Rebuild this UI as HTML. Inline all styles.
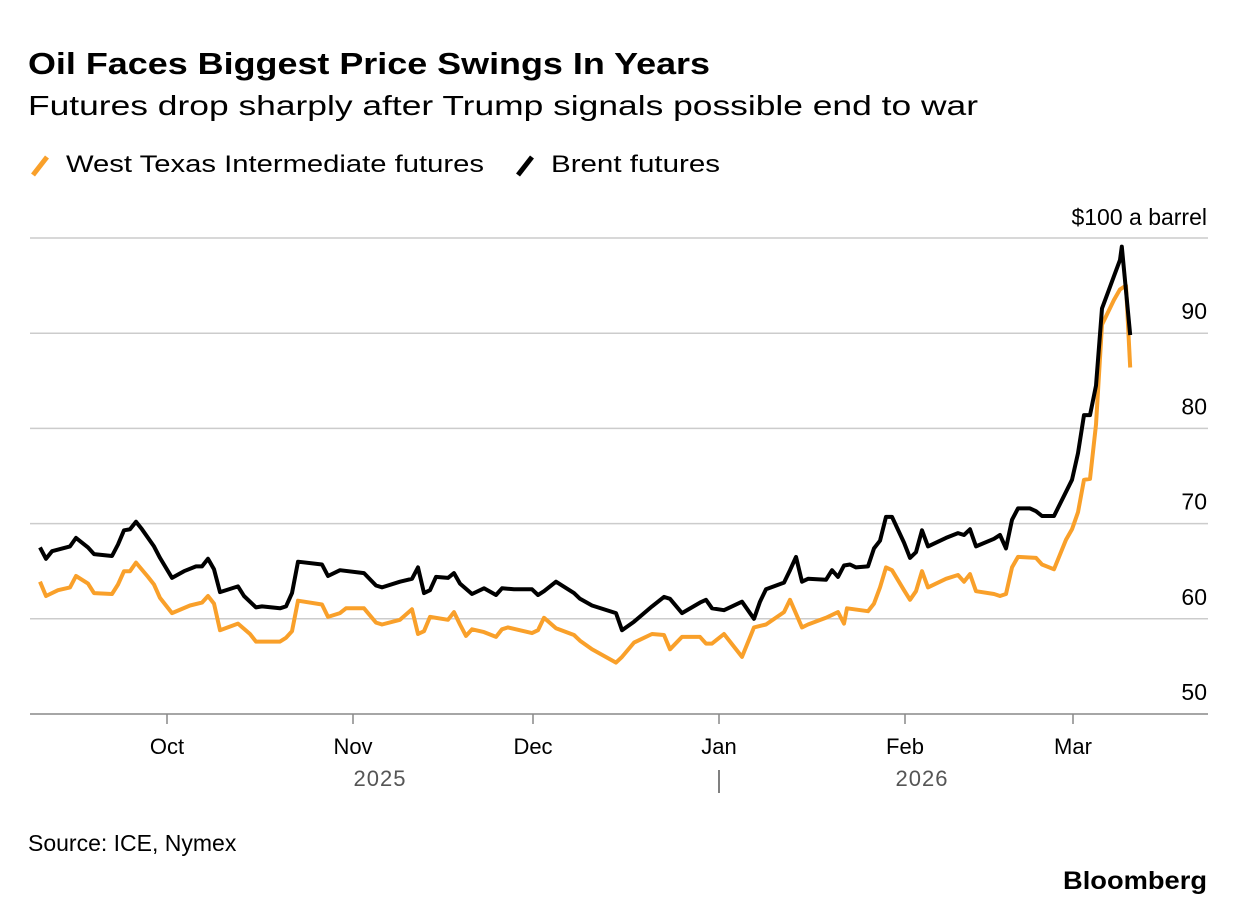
<!DOCTYPE html>
<html><head><meta charset="utf-8"><style>
html,body{margin:0;padding:0;background:#fff;}
svg{display:block;font-family:"Liberation Sans",Arial,sans-serif;}
</style></head><body>
<svg id="chart" width="1237" height="922" viewBox="0 0 1237 922">
<text x="28" y="74" font-size="31" font-weight="bold" fill="#000" textLength="682" lengthAdjust="spacingAndGlyphs">Oil Faces Biggest Price Swings In Years</text>
<text x="28" y="115" font-size="28" fill="#000" textLength="950" lengthAdjust="spacingAndGlyphs">Futures drop sharply after Trump signals possible end to war</text>
<g>
<g>
<line x1="33" y1="175" x2="47" y2="157" stroke="#f9a02a" stroke-width="5"/>
<text x="66" y="172" font-size="24" fill="#000" textLength="418" lengthAdjust="spacingAndGlyphs">West Texas Intermediate futures</text>
</g>
<g>
<line x1="518" y1="175" x2="532" y2="157" stroke="#000" stroke-width="5"/>
<text x="551" y="172" font-size="24" fill="#000" textLength="169" lengthAdjust="spacingAndGlyphs">Brent futures</text>
</g>
</g>
<g id="grid"></g>
<g id="xaxis"></g>
<g id="series"></g>
<text x="28" y="851" font-size="23" fill="#000">Source: ICE, Nymex</text>
<text x="1207" y="889" font-size="25" font-weight="bold" fill="#000" text-anchor="end" textLength="144" lengthAdjust="spacingAndGlyphs">Bloomberg</text>
</svg>
<script>
// Days offset from 2025-09-10
const wtiDays = [0,1,3,5,6,8,9,12,13,14,15,16,18,19,20,22,25,27,28,29,30,33,35,36,40,41,42,43,47,48,50,51,54,56,57,60,62,63,64,65,68,69,70,71,72,74,76,77,78,82,83,84,86,89,90,92,96,97,99,102,104,105,107,110,111,112,114,117,119,121,124,125,127,128,131,133,134,134.5,138,139,140,141,142,144,145,146,147,148,151,153,154,155,156,159,160,161,162,163,166,167,169,171,172,173,174,175,176,177,178,179,180,181,181.7];
const wtiValues = [63.9,62.4,63.0,63.3,64.5,63.7,62.7,62.6,63.6,65.0,65.0,65.9,64.4,63.6,62.2,60.6,61.4,61.7,62.4,61.6,58.8,59.5,58.4,57.6,57.6,58.0,58.7,61.9,61.5,60.2,60.6,61.1,61.1,59.6,59.4,59.9,61.0,58.4,58.7,60.2,59.9,60.7,59.4,58.2,58.9,58.6,58.1,58.9,59.1,58.5,58.8,60.1,59.0,58.3,57.7,56.8,55.4,56.0,57.5,58.4,58.3,56.8,58.1,58.1,57.4,57.4,58.4,56.0,59.1,59.4,60.7,62.0,59.1,59.4,60.1,60.7,59.5,61.1,60.8,61.6,63.3,65.4,65.1,63.0,62.0,62.9,65.0,63.3,64.2,64.6,63.9,64.7,62.9,62.6,62.4,62.6,65.4,66.5,66.4,65.7,65.2,68.3,69.4,71.2,74.6,74.7,80.4,90.9,92.2,93.5,94.6,95.0,86.4];
const brentDays = [0,1,2,5,6,8,9,12,13,14,15,16,17,19,20,22,24,26,27,28,29,30,33,34,36,37,40,41,42,43,47,48,50,54,56,57,60,62,63,64,65,66,68,69,70,72,74,76,77,79,82,83,84,86,89,90,92,96,97,99,102,104,105,107,110,111,112,114,117,119,120,121,124,125,126,127,128,131,132,133,134,135,136,138,139,140,141,142,144,145,146,147,148,151,153,154,155,156,159,160,161,162,163,165,166,167,169,172,173,174,175,176,177,178,179,180,180.3,181.7];
const brentValues = [67.5,66.3,67.1,67.6,68.5,67.5,66.8,66.6,67.8,69.3,69.4,70.2,69.4,67.6,66.4,64.3,65.0,65.5,65.5,66.3,65.2,62.8,63.4,62.4,61.2,61.3,61.1,61.3,62.7,66.0,65.7,64.5,65.1,64.8,63.5,63.3,63.9,64.2,65.4,62.7,63.0,64.4,64.3,64.8,63.7,62.6,63.2,62.5,63.2,63.1,63.1,62.5,62.9,63.9,62.7,62.1,61.4,60.6,58.8,59.7,61.3,62.3,62.1,60.6,61.7,62.0,61.1,60.9,61.8,60.0,61.8,63.1,63.8,65.1,66.5,63.9,64.2,64.1,65.1,64.4,65.6,65.7,65.4,65.5,67.4,68.2,70.7,70.7,68.0,66.4,67.0,69.3,67.6,68.5,69.0,68.8,69.4,67.6,68.4,68.8,67.4,70.4,71.6,71.6,71.3,70.8,70.8,74.6,77.4,81.4,81.4,84.5,92.6,94.3,96.0,97.7,99.1,89.8];
const yTicks = [50,60,70,80,90,100];
const yTickLabels = ["50","60","70","80","90","$100 a barrel"];
const monthDays = [21,52,82,113,144,172];
const monthLabels = ["Oct","Nov","Dec","Jan","Feb","Mar"];

const NS = "http://www.w3.org/2000/svg";
const X0 = 40, DX = 6, Y0 = 714, DY = 9.52;
function xs(d){ return X0 + d*DX; }
function ys(v){ return Y0 - (v-50)*DY; }
function mk(tag, attrs, parent){ const e=document.createElementNS(NS,tag); for(const k in attrs) e.setAttribute(k,attrs[k]); parent.appendChild(e); return e; }

const grid = document.getElementById('grid');
yTicks.forEach((t,i)=>{
  const l = mk('line',{x1:30,x2:1208,y1:ys(t),y2:ys(t),stroke:i===0?'#888':'#ccc','stroke-width':1.5},grid);
  
  
  const tx = mk('text',{x:1207,y:ys(t)-(i===5?13:14),'font-size':23,'text-anchor':'end',fill:'#000'},grid);
  tx.textContent = yTickLabels[i];
  
  
});

const xa = document.getElementById('xaxis');
monthDays.forEach((d,i)=>{
  const x = xs(d)+1;
  const tk = mk('line',{x1:x,x2:x,y1:714,y2:724,stroke:'#888','stroke-width':1.5},xa);
  
  
  const tx = mk('text',{x:x,y:754,'font-size':22,'text-anchor':'middle',fill:'#000'},xa);
  tx.textContent = monthLabels[i];
  
  
});
[["2025",380],["2026",922]].forEach(([y,x])=>{
  const tx = mk('text',{x:x,y:786,'font-size':22,'text-anchor':'middle',fill:'#555','letter-spacing':'1'},xa);
  tx.textContent = y;
  
  
});
const yd = mk('line',{x1:719,x2:719,y1:770,y2:793,stroke:'#555','stroke-width':1.5},xa);



const sg = document.getElementById('series');
function path(days, vals){ return days.map((d,i)=>(i?'L':'M')+xs(d).toFixed(1)+','+ys(vals[i]).toFixed(1)).join(''); }
const w = mk('path',{d:path(wtiDays,wtiValues),fill:'none',stroke:'#f9a02a','stroke-width':4,'stroke-linejoin':'round'},sg);


const b = mk('path',{d:path(brentDays,brentValues),fill:'none',stroke:'#000','stroke-width':4,'stroke-linejoin':'round'},sg);


</script>
</body></html>
